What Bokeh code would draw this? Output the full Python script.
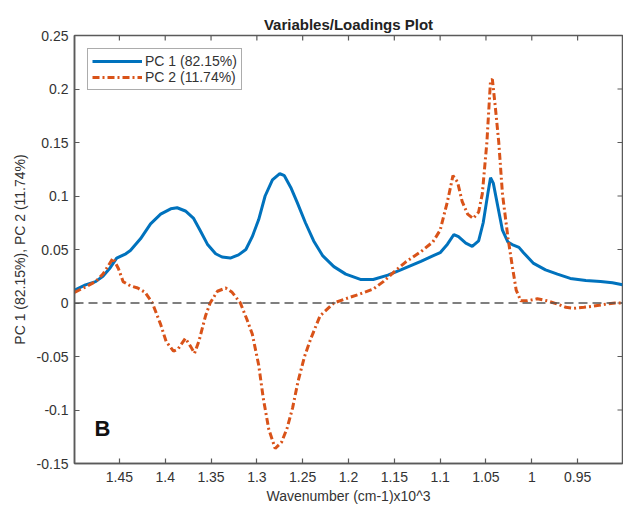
import math
from bokeh.plotting import figure
from bokeh.models import Range1d, FixedTicker, Span, Legend, LegendItem, Label, ColumnDataSource
from bokeh.embed import file_html
from bokeh.resources import INLINE

# PC1 loadings (wavenumber x10^3, value)
pc1_x = [1.499, 1.487, 1.476, 1.468, 1.460, 1.453, 1.443, 1.438, 1.427, 1.416, 1.405, 1.394, 1.387,
         1.378, 1.369, 1.362, 1.354, 1.345, 1.338, 1.329, 1.320, 1.312, 1.305, 1.298, 1.291, 1.283,
         1.275, 1.270, 1.263, 1.256, 1.247, 1.238, 1.228, 1.216, 1.203, 1.187, 1.173, 1.157, 1.143,
         1.132, 1.121, 1.108, 1.100, 1.092, 1.085, 1.080, 1.072, 1.065, 1.058, 1.053, 1.048, 1.045,
         1.042, 1.037, 1.032, 1.026, 1.020, 1.014, 1.009, 0.998, 0.985, 0.972, 0.958, 0.941, 0.925,
         0.912, 0.901]
pc1_y = [0.012, 0.017, 0.020, 0.025, 0.033, 0.042, 0.046, 0.049, 0.060, 0.074, 0.083, 0.088, 0.089,
         0.086, 0.079, 0.068, 0.055, 0.046, 0.043, 0.042, 0.045, 0.050, 0.062, 0.078, 0.100, 0.115,
         0.121, 0.119, 0.108, 0.094, 0.075, 0.058, 0.044, 0.034, 0.027, 0.022, 0.022, 0.026, 0.031,
         0.035, 0.039, 0.044, 0.047, 0.055, 0.064, 0.062, 0.056, 0.053, 0.058, 0.075, 0.102, 0.117,
         0.112, 0.090, 0.068, 0.057, 0.054, 0.052, 0.047, 0.037, 0.031, 0.027, 0.023, 0.021, 0.020,
         0.019, 0.017]

# PC2 loadings
pc2_x = [1.499, 1.487, 1.476, 1.468, 1.462, 1.457, 1.451, 1.446, 1.438, 1.430, 1.422, 1.414, 1.405,
         1.399, 1.391, 1.386, 1.378, 1.372, 1.368, 1.363, 1.356, 1.351, 1.343, 1.334, 1.327, 1.318,
         1.311, 1.305, 1.298, 1.293, 1.287, 1.280, 1.273, 1.267, 1.261, 1.255, 1.248, 1.241, 1.231,
         1.216, 1.203, 1.189, 1.173, 1.162, 1.149, 1.138, 1.121, 1.108, 1.100, 1.092, 1.086, 1.081,
         1.076, 1.070, 1.064, 1.058, 1.054, 1.049, 1.045, 1.043, 1.040, 1.036, 1.032, 1.026, 1.021,
         1.017, 1.012, 1.005, 0.994, 0.983, 0.972, 0.963, 0.954, 0.943, 0.933, 0.919, 0.909, 0.901]
pc2_y = [0.010, 0.015, 0.020, 0.027, 0.035, 0.042, 0.032, 0.020, 0.016, 0.014, 0.010, 0.000, -0.020,
         -0.036, -0.045, -0.043, -0.033, -0.041, -0.047, -0.035, -0.012, 0.000, 0.011, 0.014, 0.010,
         0.000, -0.015, -0.029, -0.058, -0.089, -0.118, -0.136, -0.130, -0.117, -0.098, -0.073, -0.050,
         -0.033, -0.012, 0.000, 0.004, 0.008, 0.013, 0.020, 0.030, 0.038, 0.048, 0.057, 0.068, 0.095,
         0.119, 0.113, 0.095, 0.083, 0.079, 0.085, 0.102, 0.150, 0.208, 0.209, 0.185, 0.150, 0.102,
         0.061, 0.033, 0.012, 0.002, 0.002, 0.004, 0.002, -0.001, -0.004, -0.005, -0.004, -0.003,
         -0.001, 0.000, 0.000]

x_ticks = [1.45, 1.4, 1.35, 1.3, 1.25, 1.2, 1.15, 1.1, 1.05, 1.0, 0.95]
x_tick_labels = ["1.45", "1.4", "1.35", "1.3", "1.25", "1.2", "1.15", "1.1", "1.05", "1", "0.95"]
y_ticks = [-0.15, -0.1, -0.05, 0.0, 0.05, 0.1, 0.15, 0.2, 0.25]
y_tick_labels = ["-0.15", "-0.1", "-0.05", "0", "0.05", "0.1", "0.15", "0.2", "0.25"]

legend_labels = ["PC 1 (82.15%)", "PC 2 (11.74%)"]

X_START, X_END = 1.499, 0.901
Y_START, Y_END = -0.15, 0.25

FONT = "Liberation Sans"
AX_COLOR = "#5a5a5a"
LBL_COLOR = "#333333"

p = figure(width=623, height=508, output_backend="svg", toolbar_location=None,
           x_range=Range1d(X_START, X_END), y_range=Range1d(Y_START, Y_END),
           min_border_left=74, min_border_right=1, min_border_top=35, min_border_bottom=45,
           title="Variables/Loadings Plot")
p.title.align = "center"
p.title.text_font = FONT
p.title.text_font_size = "15px"
p.title.text_font_style = "bold"
p.title.text_color = "#222222"
p.title.offset = 0
p.title.standoff = 5

p.xgrid.visible = False
p.ygrid.visible = False
p.outline_line_color = AX_COLOR
p.outline_line_width = 1.5
p.background_fill_color = "white"

def style_axis(ax, ticks, labels):
    ax.ticker = FixedTicker(ticks=ticks)
    ax.major_label_overrides = {t: l for t, l in zip(ticks, labels)}
    ax.major_tick_in = 5
    ax.major_tick_out = 0
    ax.minor_tick_in = 0
    ax.minor_tick_out = 0
    ax.axis_line_color = AX_COLOR
    ax.axis_line_width = 1.5
    ax.major_tick_line_color = AX_COLOR
    ax.major_tick_line_width = 1.2
    ax.major_label_text_font = FONT
    ax.major_label_text_font_size = "14px"
    ax.major_label_text_color = LBL_COLOR

xa = p.xaxis[0]
style_axis(xa, x_ticks, x_tick_labels)
xa.major_label_standoff = 8
xa.axis_label = "Wavenumber (cm-1)x10^3"
xa.axis_label_text_font = FONT
xa.axis_label_text_font_size = "14px"
xa.axis_label_text_font_style = "normal"
xa.axis_label_text_color = LBL_COLOR
xa.axis_label_standoff = 3

ya = p.yaxis[0]
style_axis(ya, y_ticks, y_tick_labels)
ya.major_label_standoff = 6
ya.axis_label = "PC 1 (82.15%), PC 2 (11.74%)"
ya.axis_label_text_font = FONT
ya.axis_label_text_font_size = "14px"
ya.axis_label_text_font_style = "normal"
ya.axis_label_text_color = LBL_COLOR
ya.axis_label_standoff = 6

# mirrored inward ticks on top and right edges (clipped to the frame)
p.scatter(x=x_ticks, y=[Y_END] * len(x_ticks), marker="dash", angle=math.pi / 2, size=10,
          line_color=AX_COLOR, line_width=1.2)
p.scatter(x=[X_END] * len(y_ticks), y=y_ticks, marker="dash", size=10,
          line_color=AX_COLOR, line_width=1.2)

zero = Span(location=0, dimension="width", line_color="#555555", line_width=1.5, line_dash="9 5")
p.add_layout(zero)

src1 = ColumnDataSource(dict(x=pc1_x, y=pc1_y))
src2 = ColumnDataSource(dict(x=pc2_x, y=pc2_y))
r1 = p.line("x", "y", source=src1, line_color="#0072BD", line_width=3)
r2 = p.line("x", "y", source=src2, line_color="#D95319", line_width=3, line_dash="7 3 2 3")

legend = Legend(items=[LegendItem(label=legend_labels[0], renderers=[r1]),
                       LegendItem(label=legend_labels[1], renderers=[r2])],
                location="top_left")
legend.label_text_font = FONT
legend.label_text_font_size = "14px"
legend.label_text_color = LBL_COLOR
legend.border_line_color = AX_COLOR
legend.border_line_width = 1.2
legend.margin = 13
legend.padding = 4
legend.spacing = 0
legend.glyph_width = 50
legend.glyph_height = 16
legend.label_height = 16
legend.label_standoff = 3
p.add_layout(legend)

lab = Label(x=1.4686, y=-0.117, text="B", text_font=FONT, text_font_size="22px",
            text_font_style="bold", text_color="#111111", text_align="center",
            text_baseline="middle")
p.add_layout(lab)

open("out.html", "w").write(file_html(p, INLINE))
